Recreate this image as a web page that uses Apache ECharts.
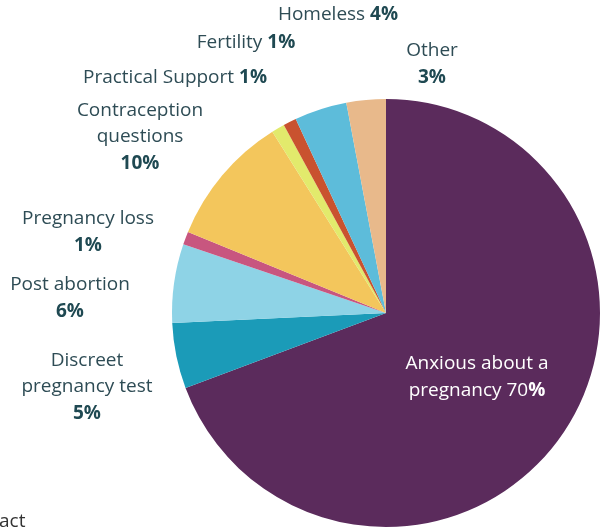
<!DOCTYPE html>
<html>
<head>
<meta charset="utf-8">
<script src="https://cdn.jsdelivr.net/npm/echarts@6/dist/echarts.min.js"></script>
<style>html,body{margin:0;padding:0;background:#fff;}#c{width:608px;height:527px;}</style>
</head>
<body>
<div id="c"></div>
<script>
// Categories (clockwise from 12 o'clock)
var categories = ['Anxious about a pregnancy', 'Discreet pregnancy test', 'Post abortion', 'Pregnancy loss',
  'Contraception questions', 'Practical Support', 'Fertility', 'Homeless', 'Other'];
var values = [70, 5, 6, 1, 10, 1, 1, 4, 3];
// Label text lines as printed (name part)
var labelNames = ['Anxious about a\npregnancy', 'Discreet\npregnancy test', 'Post abortion', 'Pregnancy loss',
  'Contraception\nquestions', 'Practical Support', 'Fertility', 'Homeless', 'Other'];
// whether the percentage sits on the same line as the name
var inlinePct = [true, false, false, false, false, true, true, true, false];

var colors = ['#5b2b5c', '#1b9bb8', '#8ed3e6', '#c8567f', '#f3c65c', '#e2ea6c', '#c9522f', '#5dbcda', '#e8b98b'];
var labelPos = [[477, 377], [87, 387], [70, 298], [88, 232], [140, 137], [175, 78], [246, 43], [338, 15], [432, 64]];

var chart = echarts.init(document.getElementById('c'));
var textColor = '#2e4c55';
var FS = 19, LH = 26.5;
var data = categories.map(function (c, i) {
  var light = i === 0;
  return {
    name: c,
    value: values[i],
    itemStyle: { color: colors[i] },
    label: {
      color: light ? '#ffffff' : textColor,
      rich: {
        n: { fontFamily: 'Open Sans', fontSize: FS, lineHeight: LH, color: light ? '#ffffff' : textColor, align: 'center' },
        p: { fontFamily: 'Open Sans', fontSize: FS, lineHeight: LH, fontWeight: 'bold', color: light ? '#ffffff' : '#1f4952', align: 'center' }
      }
    }
  };
});

chart.setOption({
  animation: false,
  series: [{
    type: 'pie',
    center: [386, 313],
    radius: 214,
    startAngle: 90,
    clockwise: true,
    itemStyle: { borderWidth: 0 },
    label: {
      show: true,
      position: 'outside',
      overflow: 'none',
      fontFamily: 'Open Sans',
      fontSize: FS,
      lineHeight: LH,
      formatter: function (p) {
        var i = p.dataIndex;
        var nm = labelNames[i].split('\n');
        if (inlinePct[i]) {
          var last = nm.pop();
          var lines = nm.map(function (s) { return '{n|' + s + '}'; });
          if (i === 0) {
            lines.push('{n|' + last + ' ' + values[i] + '}{p|%}');
          } else {
            lines.push('{n|' + last + ' }{p|' + values[i] + '%}');
          }
          return lines.join('\n');
        }
        return nm.map(function (s) { return '{n|' + s + '}'; }).join('\n') + '\n{p|' + values[i] + '%}';
      }
    },
    labelLine: { show: false },
    labelLayout: function (params) {
      var pos = labelPos[params.dataIndex];
      return { x: pos[0], y: pos[1], align: 'center', verticalAlign: 'middle', hideOverlap: false, moveOverlap: false };
    },
    emphasis: { disabled: true },
    data: data
  }],
  graphic: [{
    type: 'text',
    left: -1,
    top: 512,
    style: { text: 'act', fontFamily: 'Open Sans', fontSize: 19, fill: '#333' }
  }]
});
</script>
</body>
</html>
